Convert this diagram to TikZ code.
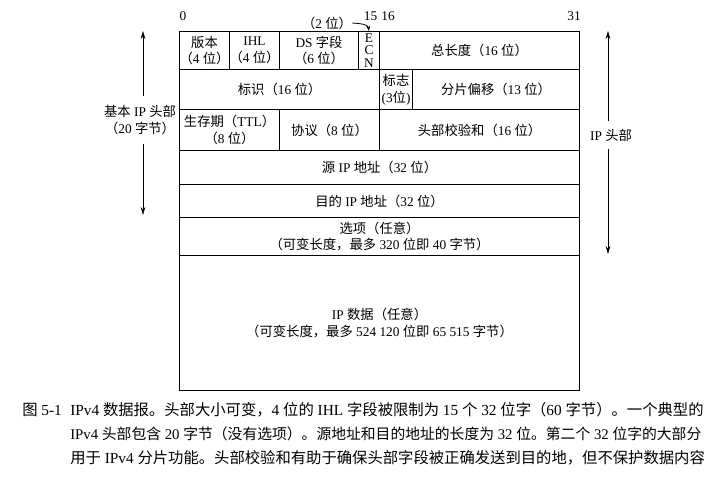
\documentclass[tikz,border=0pt]{standalone}
\usepackage{fontspec}
\setmainfont{Liberation Serif}
\newfontfamily\cjk{Noto Sans CJK SC}
\newcommand\zh[1]{{\cjk #1}}
\usetikzlibrary{arrows.meta}

\begin{document}
\begin{tikzpicture}[x = 0.75pt, y = -0.75pt,
        every node/.append style = {font = \fontsize{10}{12.5}\selectfont, inner sep = 0pt, align = center},
        fld/.style args = {#1 by #2}{draw, line width = 0.8pt, anchor = north west,
            minimum width = #1*0.75pt, minimum height = #2*0.75pt},
        span/.style = {-{Stealth[length = 6pt, width = 3.5pt]}, line width = 0.6pt},
        caption/.style = {anchor = west, font = \fontsize{11.5}{14}\selectfont}]
    \useasboundingbox (0,0) rectangle (722,494);

    % bit numbers
    \node (b0) at (183,16) {0};
    \node (b15) at (370.5,16) {15};
    \node (b16) at (388,16) {16};
    \node (b31) at (574,16) {31};

    % first word
    \node[fld = 50 by 38] (ver) at (179,31) {\zh{版本}\\\zh{（}4 \zh{位）}};
    \node[fld = 50 by 38] (ihl) at (229,31) {IHL\\\zh{（}4 \zh{位）}};
    \node[fld = 79 by 38] (ds) at (279,31) {DS \zh{字段}\\\zh{（}6 \zh{位）}};
    \node[fld = 21 by 38, font = \fontsize{10}{9.5}\selectfont] (ecn) at (358,31) {E\\C\\N};
    \node[fld = 200 by 38] (tlen) at (379,31) {\zh{总长度（}16 \zh{位）}};
    \node (ecnw) at (327,23) {\zh{（}2 \zh{位）}};
    \draw[span, -{Stealth[length = 4pt, width = 3pt]}] (ecnw.east) to[out = -5, in = 100] (ecn.north);

    % second word
    \node[fld = 200 by 40] (ident) at (179,69) {\zh{标识（}16 \zh{位）}};
    \node[fld = 33 by 40] (flags) at (379,69) {\zh{标志}\\(3\zh{位})};
    \node[fld = 167 by 40] (frag) at (412,69) {\zh{分片偏移（}13 \zh{位）}};

    % third word
    \node[fld = 100 by 41] (ttl) at (179,109) {\zh{生存期（}TTL\zh{）}\\\zh{（}8 \zh{位）}};
    \node[fld = 100 by 41] (proto) at (279,109) {\zh{协议（}8 \zh{位）}};
    \node[fld = 200 by 41] (cksum) at (379,109) {\zh{头部校验和（}16 \zh{位）}};

    % addresses, options, data
    \node[fld = 400 by 34] (src) at (179,150) {\zh{源} IP \zh{地址（}32 \zh{位）}};
    \node[fld = 400 by 33] (dst) at (179,184) {\zh{目的} IP \zh{地址（}32 \zh{位）}};
    \node[fld = 400 by 38] (opt) at (179,217) {\zh{选项（任意）}\\\zh{（可变长度，最多} 320 \zh{位即} 40 \zh{字节）}};
    \node[fld = 400 by 135] (data) at (179,255) {IP \zh{数据（任意）}\\\zh{（可变长度，最多} 524 120 \zh{位即} 65 515 \zh{字节）}};

    % header extents
    \coordinate (htop) at (143,31);
    \coordinate (hbot) at (143,215);
    \node[inner ysep = 7pt] (basehdr) at (140,120) {\zh{基本} IP \zh{头部}\\\zh{（}20 \zh{字节）}};
    \draw[span] (basehdr.north -| htop) -- (htop);
    \draw[span] (basehdr.south -| hbot) -- (hbot);

    \coordinate (iptop) at (608,31);
    \coordinate (ipbot) at (608,254);
    \node[inner ysep = 6pt] (iphdr) at (611,135) {IP \zh{头部}};
    \draw[span] (iphdr.north -| iptop) -- (iptop);
    \draw[span] (iphdr.south -| ipbot) -- (ipbot);

    % caption
    \node[caption] (fignum) at (22,410) {\zh{图} 5-1};
    \node[caption] (cap1) at (70,410) {IPv4 \zh{数据报。头部大小可变，}4 \zh{位的} IHL \zh{字段被限制为} 15 \zh{个} 32 \zh{位字（}60 \zh{字节）。一个典型的}};
    \node[caption, font = \fontsize{11.1}{14}\selectfont] (cap2) at (70,434) {IPv4 \zh{头部包含} 20 \zh{字节（没有选项）。源地址和目的地址的长度为} 32 \zh{位。第二个} 32 \zh{位字的大部分}};
    \node[caption] (cap3) at (70,458) {\zh{用于} IPv4 \zh{分片功能。头部校验和有助于确保头部字段被正确发送到目的地，但不保护数据内容}};
\end{tikzpicture}
\end{document}
